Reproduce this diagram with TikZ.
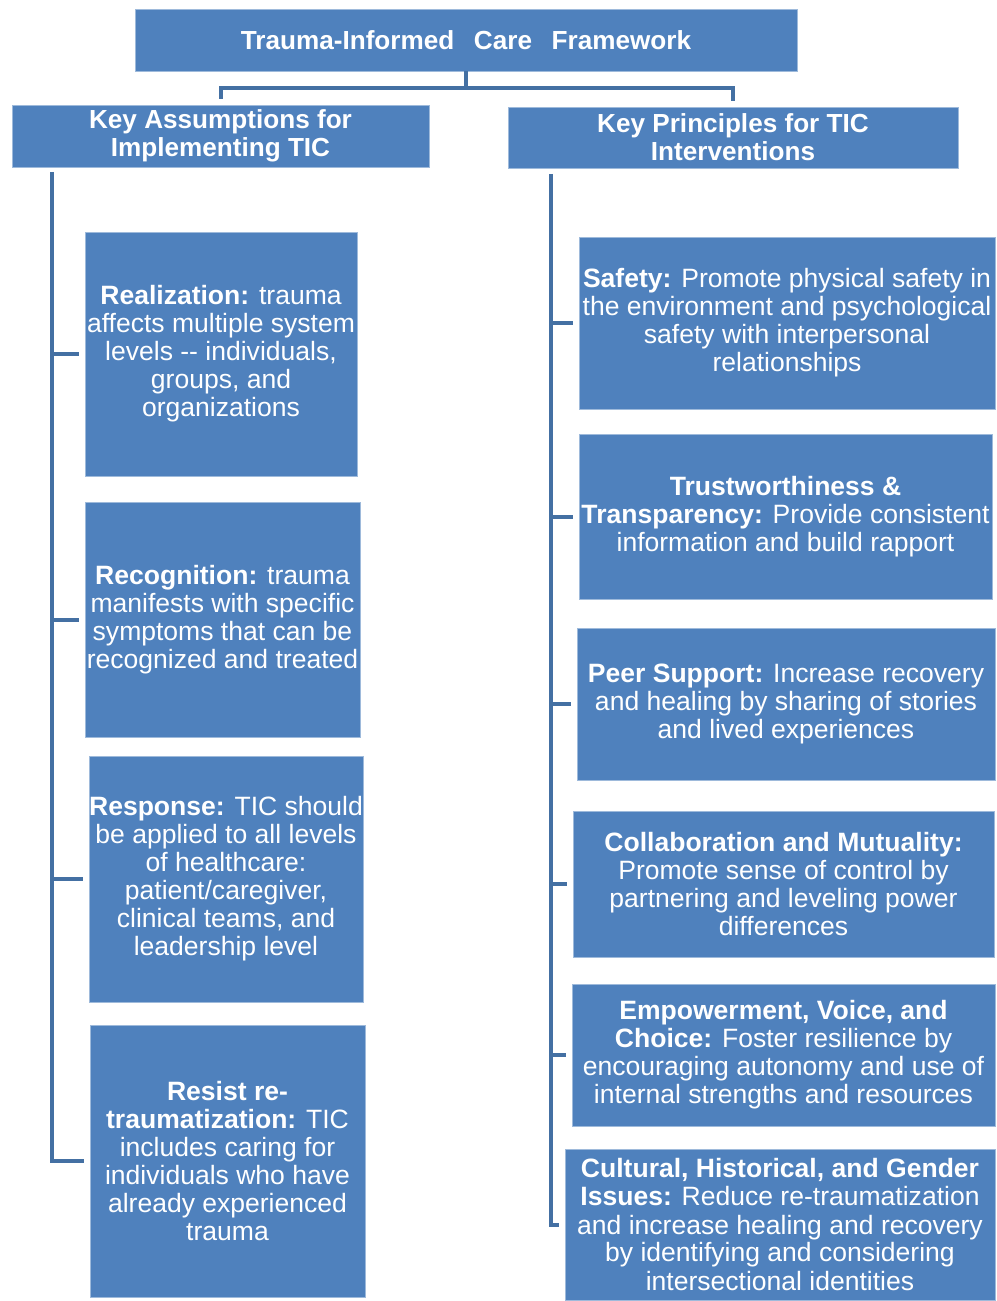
\documentclass[tikz,border=0pt]{standalone}
\usepackage{fontspec}
\setmainfont{Liberation Sans}
\usepackage{xcolor}
\definecolor{ticblue}{RGB}{79,129,189}
\definecolor{ticline}{RGB}{68,112,163}
\usetikzlibrary{positioning,calc}
\tikzset{
  box/.style={fill=ticblue, draw=ticblue!55!white, line width=0.5pt, text=white,
    align=center, inner sep=0pt, font=\fontsize{19.9}{21}\selectfont},
  hdr/.style={box, font=\bfseries\fontsize{19.6}{21}\selectfont},
  wh/.style 2 args={minimum width=#1*0.75pt, minimum height=#2*0.75pt},
  conn/.style={draw=ticline, line width=3pt},
}

\begin{document}
\begin{tikzpicture}[x=0.75pt, y=-0.75pt]
    \useasboundingbox (0,0) rectangle (996,1301);
    % headers
    \node[hdr, wh={662}{62}] (title) at (466,40) {Trauma-Informed\hspace{0.75em}Care\hspace{0.75em}Framework};
    \node[hdr, wh={417}{62}] (lhead) at (220.5,136) {Key Assumptions for\\Implementing TIC};
    \node[hdr, wh={450}{61}] (rhead) at (733,137.5) {Key Principles for TIC\\Interventions};
    % assumptions
    \node[box, wh={272}{244}] (a1) at (221,354) {\textbf{Realization:} trauma\\affects multiple system\\levels -{}- individuals,\\groups, and\\organizations};
    \node[box, wh={275}{235}] (a2) at (222.5,619.5) {\textbf{Recognition:} trauma\\manifests with specific\\symptoms that can be\\recognized and treated};
    \node[box, wh={272}{246}] (a3) at (226,879) {\textbf{Response:} TIC should\\be applied to all levels\\of healthcare:\\patient/caregiver,\\clinical teams, and\\leadership level};
    \node[box, wh={275}{272}] (a4) at (227.5,1161) {\textbf{Resist re-}\\\textbf{traumatization:} TIC\\includes caring for\\individuals who have\\already experienced\\trauma};
    % principles
    \node[box, wh={416}{172}] (p1) at (787,323) {\textbf{Safety:} Promote physical safety in\\the environment and psychological\\safety with interpersonal\\relationships};
    \node[box, wh={413}{165}] (p2) at (785.5,516.5) {\textbf{Trustworthiness \&}\\\textbf{Transparency:} Provide consistent\\information and build rapport};
    \node[box, wh={418}{152}] (p3) at (786,704) {\textbf{Peer Support:} Increase recovery\\and healing by sharing of stories\\and lived experiences};
    \node[box, wh={421}{146}] (p4) at (783.5,884) {\textbf{Collaboration and Mutuality:}\\Promote sense of control by\\partnering and leveling power\\differences};
    \node[box, wh={423}{142}] (p5) at (783.5,1055) {\textbf{Empowerment, Voice, and}\\\textbf{Choice:} Foster resilience by\\encouraging autonomy and use of\\internal strengths and resources};
    \node[box, wh={430}{151}] (p6) at (780,1224.5) {\textbf{Cultural, Historical, and Gender}\\\textbf{Issues:} Reduce re-traumatization\\and increase healing and recovery\\by identifying and considering\\intersectional identities};

    % connectors
    \coordinate (fork) at (466,88);
    \coordinate (ltop) at (52,172);
    \coordinate (rtop) at (551,174);
    \draw[conn] (title.south) -- (fork);
    \draw[conn, shorten >=4pt] (fork) -| (lhead.north);
    \draw[conn, shorten >=4pt] (fork) -| (rhead.north);
    \draw[conn, shorten >=4pt] (ltop) |- (a4.west);
    \foreach \n in {a1,a2,a3}
        \draw[conn, shorten >=4pt] (ltop |- \n.west) -- (\n.west);
    \draw[conn, shorten >=4pt] (rtop) |- (p6.west);
    \foreach \n in {p1,p2,p3,p4,p5}
        \draw[conn, shorten >=4pt] (rtop |- \n.west) -- (\n.west);
\end{tikzpicture}
\end{document}
